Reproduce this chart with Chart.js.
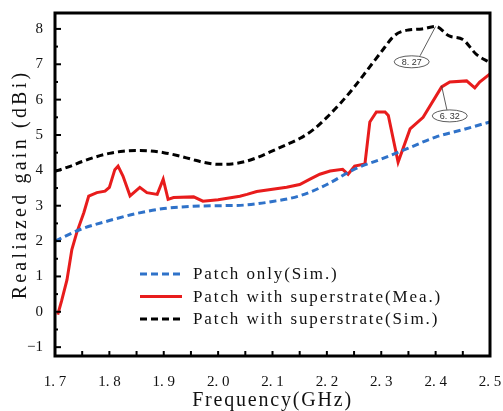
<!DOCTYPE html>
<html>
<head>
<meta charset="utf-8">
<script src="https://cdn.jsdelivr.net/npm/chart.js@4.4.1/dist/chart.umd.min.js"></script>
<style>
  html, body { margin: 0; padding: 0; background: #fff; overflow: hidden; }
  #wrap { width: 503px; height: 411px; position: relative; }
  canvas { display: block; }
</style>
</head>
<body>
<div id="wrap"><canvas id="gainChart"></canvas></div>
<script>
// --- data ---
const xTicks = [1.7, 1.8, 1.9, 2.0, 2.1, 2.2, 2.3, 2.4, 2.5];
const yTicks = [-1, 0, 1, 2, 3, 4, 5, 6, 7, 8];

// Patch only (Sim.)
const freqPatch = [1.70, 1.75, 1.80, 1.85, 1.90, 1.95, 2.00, 2.05, 2.10, 2.15, 2.20, 2.25, 2.30, 2.35, 2.40, 2.45, 2.50];
const gainPatch = [2.00, 2.35, 2.58, 2.78, 2.92, 2.98, 3.00, 3.02, 3.12, 3.28, 3.60, 4.03, 4.32, 4.63, 4.94, 5.15, 5.37];

// Patch with superstrate (Mea.)
const freqMea = [1.705, 1.712, 1.722, 1.731, 1.740, 1.753, 1.762, 1.777, 1.792, 1.800, 1.810, 1.816, 1.825, 1.838,
  1.856, 1.869, 1.888, 1.899, 1.908, 1.918, 1.955, 1.972, 2.000, 2.040, 2.053, 2.071, 2.126, 2.150, 2.169, 2.187,
  2.206, 2.229, 2.239, 2.251, 2.270, 2.279, 2.291, 2.307, 2.313, 2.331, 2.353, 2.377, 2.411, 2.426, 2.457, 2.472, 2.481, 2.500];
const gainMea = [-0.08, 0.30, 0.90, 1.76, 2.24, 2.80, 3.27, 3.37, 3.41, 3.52, 4.02, 4.12, 3.84, 3.28,
  3.52, 3.37, 3.32, 3.75, 3.18, 3.23, 3.25, 3.13, 3.17, 3.27, 3.32, 3.40, 3.52, 3.60, 3.75, 3.89,
  3.98, 4.03, 3.89, 4.12, 4.18, 5.37, 5.65, 5.65, 5.55, 4.23, 5.17, 5.50, 6.36, 6.50, 6.53, 6.33, 6.50, 6.73];

// Patch with superstrate (Sim.)
const freqSup = [1.700, 1.725, 1.750, 1.775, 1.800, 1.825, 1.850, 1.875, 1.900, 1.925, 1.950, 1.975, 2.000, 2.025,
  2.050, 2.075, 2.100, 2.125, 2.150, 2.175, 2.200, 2.225, 2.250, 2.275, 2.300, 2.325, 2.350, 2.375, 2.400, 2.425,
  2.450, 2.475, 2.500];
const gainSup = [3.97, 4.10, 4.25, 4.38, 4.48, 4.54, 4.56, 4.55, 4.50, 4.42, 4.32, 4.22, 4.17, 4.18,
  4.25, 4.38, 4.55, 4.72, 4.90, 5.15, 5.50, 5.90, 6.35, 6.85, 7.35, 7.82, 7.97, 8.00, 8.07, 7.80,
  7.70, 7.28, 7.05];

// callouts: [text, point x, point y, label x, label y]
const callouts = [
  ['8. 27', 2.400, 8.07, 2.356, 7.07],
  ['6. 32', 2.411, 6.39, 2.426, 5.54]
];

const pairs = (xs, ys) => xs.map((x, i) => ({ x: x, y: ys[i] }));

// drop the label-overflow padding Chart.js adds, the layout padding sets the plot box
const noOverflow = s => {
  s.paddingLeft = 0; s.paddingRight = 0; s.paddingTop = 0; s.paddingBottom = 0;
};

// frame, inward ticks, axis titles, legend and callouts
const decorations = {
  id: 'decorations',
  afterDatasetsDraw(chart) {
    const ctx = chart.ctx;
    const a = chart.chartArea;
    const xs = chart.scales.x, ys = chart.scales.y;
    ctx.save();

    // inward ticks
    ctx.strokeStyle = '#000';
    ctx.lineWidth = 2;
    for (let v = 1.7; v <= 2.5001; v += 0.05) {
      const px = xs.getPixelForValue(v);
      ctx.beginPath();
      ctx.moveTo(px, a.bottom);
      ctx.lineTo(px, a.bottom - 5);
      ctx.stroke();
    }
    for (let v = -1; v <= 8.0001; v += 0.5) {
      const py = ys.getPixelForValue(v);
      const len = Math.abs(v - Math.round(v)) < 1e-6 ? 6 : 3;
      ctx.beginPath();
      ctx.moveTo(a.left, py);
      ctx.lineTo(a.left + len, py);
      ctx.stroke();
    }

    // frame
    ctx.lineWidth = 3;
    ctx.strokeRect(a.left, a.top, a.right - a.left, a.bottom - a.top);

    // callouts
    ctx.lineWidth = 0.8;
    ctx.strokeStyle = '#333';
    ctx.font = '9px "Liberation Sans"';
    ctx.textAlign = 'center';
    ctx.textBaseline = 'middle';
    callouts.forEach(c => {
      const px = xs.getPixelForValue(c[1]), py = ys.getPixelForValue(c[2]);
      const lx = xs.getPixelForValue(c[3]), ly = ys.getPixelForValue(c[4]);
      ctx.beginPath();
      ctx.moveTo(px, py);
      ctx.lineTo(lx + (px - lx) * 0.35, ly - 6);
      ctx.stroke();
      ctx.beginPath();
      ctx.ellipse(lx, ly, 17.5, 6, 0, 0, Math.PI * 2);
      ctx.fillStyle = '#fff';
      ctx.fill();
      ctx.stroke();
      ctx.fillStyle = '#333';
      ctx.fillText(c[0], lx, ly + 0.5);
    });

    // legend
    ctx.font = '17px "Liberation Serif"';
    ctx.letterSpacing = '1.9px';
    ctx.textAlign = 'left';
    ctx.textBaseline = 'middle';
    chart.data.datasets.forEach((ds, i) => {
      const y = 274 + i * 22.5;
      ctx.beginPath();
      ctx.setLineDash(ds.borderDash || []);
      ctx.strokeStyle = ds.borderColor;
      ctx.lineWidth = 3;
      ctx.moveTo(140, y);
      ctx.lineTo(182, y);
      ctx.stroke();
      ctx.setLineDash([]);
      ctx.fillStyle = '#111';
      ctx.fillText(ds.label, 193, y + 1);
    });

    // axis titles
    ctx.fillStyle = '#111';
    ctx.font = '20px "Liberation Serif"';
    ctx.letterSpacing = '1.8px';
    ctx.textAlign = 'center';
    ctx.textBaseline = 'middle';
    ctx.fillText('Frequency(GHz)', (a.left + a.right) / 2, 401);
    ctx.translate(21, (a.top + a.bottom) / 2);
    ctx.rotate(-Math.PI / 2);
    ctx.letterSpacing = '3.2px';
    ctx.fillText('Realiazed gain (dBi)', 0, 0);
    ctx.restore();
  }
};

const ctx = document.getElementById('gainChart').getContext('2d');
const gainChart = new Chart(ctx, {
  type: 'line',
  data: {
    datasets: [{
      label: 'Patch only(Sim.)',
      data: pairs(freqPatch, gainPatch),
      borderColor: '#2f72c9',
      borderWidth: 3,
      borderDash: [7, 4],
      pointRadius: 0,
      cubicInterpolationMode: 'monotone'
    }, {
      label: 'Patch with superstrate(Mea.)',
      data: pairs(freqMea, gainMea),
      borderColor: '#e81c1c',
      borderWidth: 3,
      pointRadius: 0,
      tension: 0
    }, {
      label: 'Patch with superstrate(Sim.)',
      data: pairs(freqSup, gainSup),
      borderColor: '#000',
      borderWidth: 3,
      borderDash: [7, 4],
      pointRadius: 0,
      cubicInterpolationMode: 'monotone'
    }]
  },
  options: {
    responsive: true,
    maintainAspectRatio: false,
    animation: false,
    layout: { padding: { top: 13, right: 13, left: 0, bottom: 0 } },
    plugins: {
      legend: { display: false },
      tooltip: { enabled: false }
    },
    scales: {
      x: {
        type: 'linear',
        min: 1.7,
        max: 2.5,
        afterFit: s => { s.height = 55; noOverflow(s); },
        afterBuildTicks: s => { s.ticks = xTicks.map(v => ({ value: v })); },
        grid: { display: false, drawTicks: false },
        border: { display: false },
        ticks: {
          padding: 17,
          autoSkip: false,
          maxRotation: 0,
          color: '#111',
          font: { family: '"Liberation Serif"', size: 15 },
          callback: v => v.toFixed(1).replace('.', '. ')
        }
      },
      y: {
        min: -1.25,
        max: 8.45,
        afterFit: s => { s.width = 55; noOverflow(s); },
        afterBuildTicks: s => { s.ticks = yTicks.map(v => ({ value: v })); },
        grid: { display: false, drawTicks: false },
        border: { display: false },
        ticks: {
          padding: 12,
          color: '#111',
          font: { family: '"Liberation Serif"', size: 15 },
          callback: v => (v < 0 ? '\u2212' + Math.abs(v) : String(v))
        }
      }
    }
  },
  plugins: [decorations]
});
</script>
</body>
</html>
